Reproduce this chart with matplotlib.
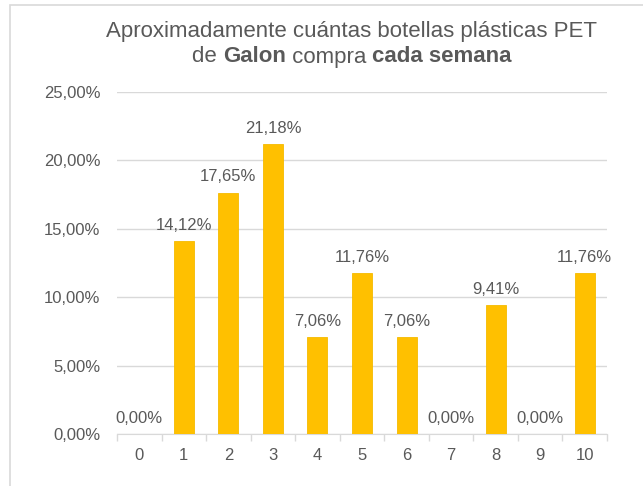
import matplotlib.pyplot as plt
from matplotlib.patches import Rectangle

plt.rcParams['font.family'] = ['Liberation Sans', 'DejaVu Sans']

categories = ['0', '1', '2', '3', '4', '5', '6', '7', '8', '9', '10']
values = [0.0, 14.12, 17.65, 21.18, 7.06, 11.76, 7.06, 0.0, 9.41, 0.0, 11.76]
yticks = [0, 5, 10, 15, 20, 25]

text_color = '#595959'
bar_color = '#FFC000'
grid_color = '#D9D9D9'

W, H = 643, 486
fig = plt.figure(figsize=(W / 100, H / 100), dpi=100)

# outer chart border (only top/left visible in the reference)
fig.patches.append(Rectangle((10 / W, -0.1), 1.2, (H - 5) / H + 0.1, transform=fig.transFigure,
                             fill=False, edgecolor='#D9D9D9', linewidth=1.2))

ax = fig.add_axes([117 / W, 1 - 434 / H, (607 - 117) / W, (434 - 92) / H])
x = list(range(len(categories)))
ax.bar(x, values, width=0.45, color=bar_color, edgecolor='#F5BA00', linewidth=0.6, zorder=3)

for xi, v in zip(x, values):
    ax.annotate('{:.2f}%'.format(v).replace('.', ','), (xi, v), xytext=(0, 6),
                textcoords='offset points', ha='center', va='bottom',
                fontsize=12, color=text_color)

ax.set_xlim(-0.5, len(categories) - 0.5)
ax.set_ylim(0, 25)
ax.set_yticks(yticks)
ax.set_yticklabels(['{:.2f}%'.format(t).replace('.', ',') for t in yticks])
ax.set_xticks(x)
ax.set_xticklabels(categories)
ax.set_xticks([i + 0.5 for i in range(-1, len(categories))], minor=True)
ax.tick_params(axis='x', which='major', length=0, pad=10, labelsize=12, labelcolor=text_color)
ax.tick_params(axis='x', which='minor', length=5, color=grid_color, width=1)
ax.tick_params(axis='y', length=0, pad=12, labelsize=12, labelcolor=text_color)
ax.yaxis.grid(True, color=grid_color, linewidth=1, zorder=0)
ax.set_axisbelow(True)
for s in ['top', 'right', 'left']:
    ax.spines[s].set_visible(False)
ax.spines['bottom'].set_color(grid_color)

# title, second line with bold pieces
fig.text(352 / W, 1 - 31 / H, 'Aproximadamente cuántas botellas plásticas PET',
         ha='center', va='center', fontsize=16, color=text_color)

pieces = [('de ', 'normal'), ('Galon', 'bold'), (' compra ', 'normal'), ('cada semana', 'bold')]
renderer = fig.canvas.get_renderer()
texts = []
for s, w in pieces:
    t = fig.text(0, 1 - 57 / H, s, ha='left', va='center', fontsize=16,
                 fontweight=w, color=text_color)
    texts.append(t)
widths = [t.get_window_extent(renderer).width for t in texts]
total = sum(widths)
xpos = 352 - total / 2
for t, wd in zip(texts, widths):
    t.set_x(xpos / W)
    xpos += wd

fig.savefig('out.png', dpi=100)
